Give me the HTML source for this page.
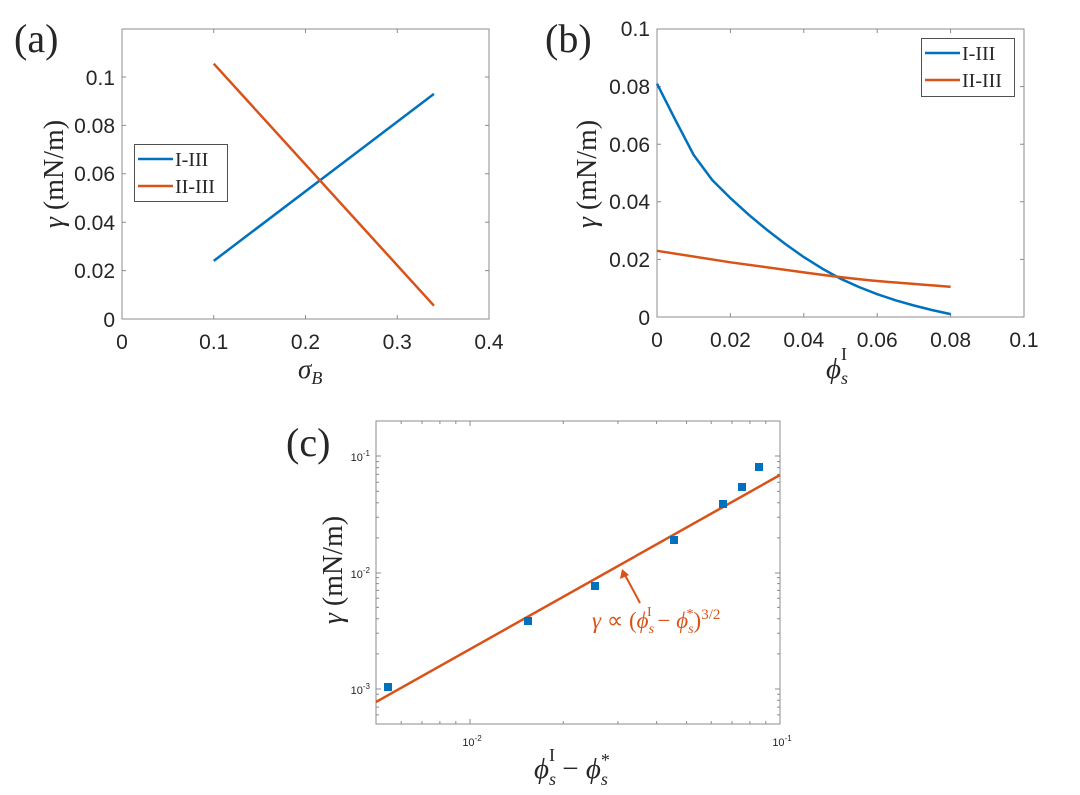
<!DOCTYPE html>
<html><head><meta charset="utf-8"><style>
html,body{margin:0;padding:0;background:#fff}
svg{display:block}
.t{font-family:"Liberation Sans",sans-serif;font-size:21px;fill:#262626}
.s{font-family:"Liberation Serif",serif;fill:#262626}
.sm{font-family:"Liberation Sans",sans-serif;font-size:11px;fill:#262626}
</style></head><body>
<svg width="1080" height="795" viewBox="0 0 1080 795" xmlns="http://www.w3.org/2000/svg">
<!-- Panel a -->
<text x="14" y="52" class="s" font-size="40">(a)</text>
<rect x="122" y="29" width="367" height="290" fill="none" stroke="#8c8c8c" stroke-width="1"/>
<g stroke="#8c8c8c" stroke-width="1">
<path d="M213.75 319v-4M305.5 319v-4M397.25 319v-4M213.75 29v4M305.5 29v4M397.25 29v4
M122 270.6h4M122 222.2h4M122 173.8h4M122 125.4h4M122 77h4M489 270.6h-4M489 222.2h-4M489 173.8h-4M489 125.4h-4M489 77h-4"/>
</g>
<g class="t" text-anchor="end">
<text x="115" y="327">0</text><text x="115" y="278">0.02</text><text x="115" y="230">0.04</text>
<text x="115" y="181">0.06</text><text x="115" y="133">0.08</text><text x="115" y="85">0.1</text>
</g>
<g class="t" text-anchor="middle">
<text x="122" y="349">0</text><text x="213.75" y="349">0.1</text><text x="305.5" y="349">0.2</text>
<text x="397.25" y="349">0.3</text><text x="489" y="349">0.4</text>
</g>
<text class="s" font-size="28" text-anchor="middle" transform="translate(63,174) rotate(-90)"><tspan font-style="italic">γ</tspan> (mN/m)</text>
<text class="s" x="298" y="378" font-size="27" font-style="italic">σ<tspan font-size="18" dy="6">B</tspan></text>
<line x1="213.75" y1="260.9" x2="433.95" y2="93.9" stroke="#0072bd" stroke-width="2.5"/>
<line x1="213.75" y1="63.7" x2="433.95" y2="305.7" stroke="#d95319" stroke-width="2.5"/>
<rect x="134.5" y="144.5" width="93" height="57" fill="#fff" stroke="#262626" stroke-width="0.8"/>
<line x1="138" y1="159" x2="173" y2="159" stroke="#0072bd" stroke-width="2.5"/>
<line x1="138" y1="186" x2="173" y2="186" stroke="#d95319" stroke-width="2.5"/>
<text class="s" x="175" y="166" font-size="20">I-III</text>
<text class="s" x="175" y="193" font-size="20">II-III</text>

<!-- Panel b -->
<text x="545" y="52" class="s" font-size="40">(b)</text>
<rect x="657" y="29" width="367" height="288" fill="none" stroke="#8c8c8c" stroke-width="1"/>
<g stroke="#8c8c8c" stroke-width="1">
<path d="M730.4 317v-4M803.8 317v-4M877.2 317v-4M950.6 317v-4M730.4 29v4M803.8 29v4M877.2 29v4M950.6 29v4
M657 259.4h4M657 201.8h4M657 144.2h4M657 86.6h4M1024 259.4h-4M1024 201.8h-4M1024 144.2h-4M1024 86.6h-4"/>
</g>
<g class="t" text-anchor="end">
<text x="650" y="325">0</text><text x="650" y="267">0.02</text><text x="650" y="209">0.04</text>
<text x="650" y="152">0.06</text><text x="650" y="94">0.08</text><text x="650" y="36">0.1</text>
</g>
<g class="t" text-anchor="middle">
<text x="657" y="347">0</text><text x="730.4" y="347">0.02</text><text x="803.8" y="347">0.04</text>
<text x="877.2" y="347">0.06</text><text x="950.6" y="347">0.08</text><text x="1024" y="347">0.1</text>
</g>
<text class="s" font-size="28" text-anchor="middle" transform="translate(596,174) rotate(-90)"><tspan font-style="italic">γ</tspan> (mN/m)</text>
<text class="s" x="826" y="378" font-size="29" font-style="italic">ϕ<tspan font-size="18" dy="6">s</tspan><tspan font-size="18" font-style="normal" dx="-7" dy="-24">I</tspan></text>
<polyline points="657,83.7 675.4,120 693.7,155 712.1,179.9 730.4,198.1 748.8,214.8 767.1,230 785.5,244.1 803.8,257.1 822.2,268.6 840.5,278.7 858.9,287 877.2,294.2 895.6,300.3 913.9,305.5 932.3,310.1 950.6,314.1" fill="none" stroke="#0072bd" stroke-width="2.5" stroke-linejoin="round"/>
<path d="M657 250.8 L730.4 262.3 L803.8 272.4 C830 276,855 279,877.2 281 C905 283.5,930 285,950.6 286.8" fill="none" stroke="#d95319" stroke-width="2.5"/>
<rect x="921.5" y="38.5" width="93" height="58" fill="#fff" stroke="#262626" stroke-width="0.8"/>
<line x1="925" y1="53" x2="960" y2="53" stroke="#0072bd" stroke-width="2.5"/>
<line x1="925" y1="80" x2="960" y2="80" stroke="#d95319" stroke-width="2.5"/>
<text class="s" x="962" y="60" font-size="20">I-III</text>
<text class="s" x="962" y="87" font-size="20">II-III</text>

<!-- Panel c -->
<text x="286" y="456" class="s" font-size="40">(c)</text>
<rect x="376" y="421" width="404" height="303" fill="none" stroke="#8c8c8c" stroke-width="1"/>
<g stroke="#8c8c8c" stroke-width="1">
<path d="M470 724v-5M470 421v5M780 724v-5M780 421v5
M401.2 724v-3M422 724v-3M439.9 724v-3M455.8 724v-3M563.3 724v-3M617.9 724v-3M656.6 724v-3M686.6 724v-3M711.2 724v-3M732 724v-3M749.9 724v-3M765.8 724v-3
M401.2 421v3M422 421v3M439.9 421v3M455.8 421v3M563.3 421v3M617.9 421v3M656.6 421v3M686.6 421v3M711.2 421v3M732 421v3M749.9 421v3M765.8 421v3
M376 456h5M376 573h5M376 689h5M780 456h-5M780 573h-5M780 689h-5
M376 714.9h3M376 707.1h3M376 700.3h3M376 694.3h3M376 653.9h3M376 633.3h3M376 618.7h3M376 607.4h3M376 598.2h3M376 590.4h3M376 583.6h3M376 577.6h3M376 537.9h3M376 517.3h3M376 502.7h3M376 491.4h3M376 482.2h3M376 474.4h3M376 467.6h3M376 461.6h3
M780 714.9h-3M780 707.1h-3M780 700.3h-3M780 694.3h-3M780 653.9h-3M780 633.3h-3M780 618.7h-3M780 607.4h-3M780 598.2h-3M780 590.4h-3M780 583.6h-3M780 577.6h-3M780 537.9h-3M780 517.3h-3M780 502.7h-3M780 491.4h-3M780 482.2h-3M780 474.4h-3M780 467.6h-3M780 461.6h-3"/>
</g>
<g class="sm" text-anchor="end">
<text x="370" y="461">10<tspan font-size="8" dy="-5">-1</tspan></text>
<text x="370" y="578">10<tspan font-size="8" dy="-5">-2</tspan></text>
<text x="370" y="694">10<tspan font-size="8" dy="-5">-3</tspan></text>
</g>
<g class="sm" text-anchor="middle">
<text x="472" y="746">10<tspan font-size="8" dy="-5">-2</tspan></text>
<text x="782" y="746">10<tspan font-size="8" dy="-5">-1</tspan></text>
</g>
<text class="s" font-size="28" text-anchor="middle" transform="translate(342,570) rotate(-90)"><tspan font-style="italic">γ</tspan> (mN/m)</text>
<text class="s" x="534" y="778" font-size="29"><tspan font-style="italic">ϕ</tspan><tspan font-size="18" font-style="italic" dy="7">s</tspan><tspan font-size="18" dx="-7" dy="-24">I</tspan><tspan dy="17"> − </tspan><tspan font-style="italic">ϕ</tspan><tspan font-size="18" font-style="italic" dy="7">s</tspan><tspan font-size="18" dx="-7" dy="-19">*</tspan></text>
<line x1="376" y1="702" x2="780" y2="475" stroke="#d95319" stroke-width="2.5"/>
<g fill="#0072bd">
<rect x="384" y="683" width="8" height="8"/><rect x="524" y="617" width="8" height="8"/>
<rect x="591" y="582" width="8" height="8"/><rect x="670" y="536" width="8" height="8"/>
<rect x="719" y="500" width="8" height="8"/><rect x="738" y="483" width="8" height="8"/>
<rect x="755" y="463" width="8" height="8"/>
</g>
<line x1="640" y1="603" x2="625" y2="575" stroke="#d95319" stroke-width="2"/>
<path d="M622 569 L620 579 L629 575 Z" fill="#d95319"/>
<text x="592" y="628" font-family="Liberation Serif,serif" font-size="23" fill="#d95319"><tspan font-style="italic">γ</tspan> ∝ (<tspan font-style="italic">ϕ</tspan><tspan font-size="14" font-style="italic" dy="5">s</tspan><tspan font-size="14" dx="-7" dy="-17">I</tspan><tspan dy="12"> − </tspan><tspan font-style="italic">ϕ</tspan><tspan font-size="14" font-style="italic" dy="5">s</tspan><tspan font-size="14" dx="-7" dy="-15">*</tspan><tspan dy="10">)</tspan><tspan font-size="15" dy="-9">3/2</tspan></text>
</svg>
</body></html>
